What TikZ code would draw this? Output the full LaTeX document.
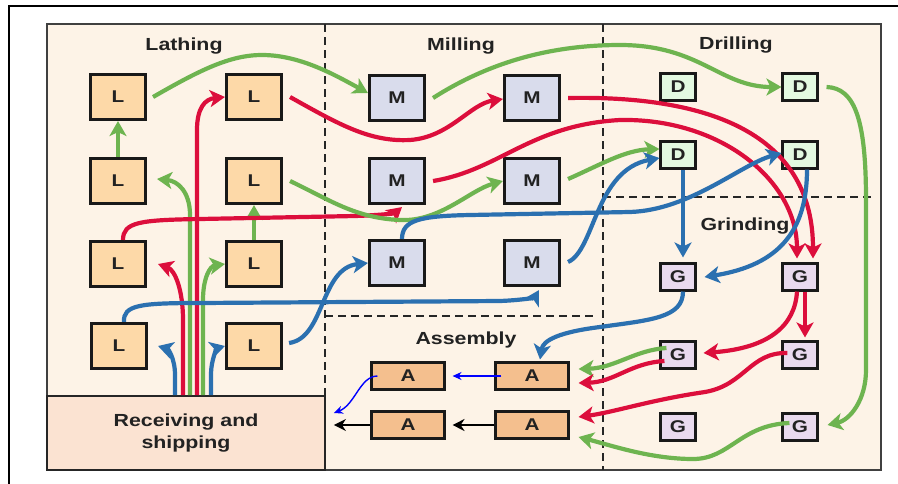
\documentclass[tikz,border=0pt]{standalone}
\usepackage{fontspec}
\usetikzlibrary{arrows.meta}
\newfontfamily\labfont[FakeStretch=1.22]{Liberation Sans}
\definecolor{panel}{HTML}{FDF3E7}
\definecolor{recv}{HTML}{FBE3D2}
\definecolor{lfill}{HTML}{FDD9A8}
\definecolor{mfill}{HTML}{D9DCEC}
\definecolor{dfill}{HTML}{E3F9E1}
\definecolor{gfill}{HTML}{E9DAEE}
\definecolor{afill}{HTML}{F4BF8E}
\definecolor{gr}{HTML}{6EB450}
\definecolor{rd}{HTML}{DC0E3C}
\definecolor{bl}{HTML}{2B70B0}
\definecolor{txt}{HTML}{222222}
\tikzset{
  box/.style={draw=black!90, line width=2.6pt, inner sep=0pt, text=txt,
    font=\labfont\bfseries\fontsize{17}{17}\selectfont},
  lbox/.style={box, fill=lfill, minimum width=55.5pt, minimum height=45.5pt},
  mbox/.style={box, fill=mfill, minimum width=55.5pt, minimum height=45.5pt},
  dbox/.style={box, fill=dfill, minimum width=34.5pt, minimum height=26.5pt},
  gbox/.style={box, fill=gfill, minimum width=34.5pt, minimum height=26.5pt},
  abox/.style={box, fill=afill, minimum width=72.5pt, minimum height=26.5pt},
  title/.style={text=txt, font=\labfont\bfseries\fontsize{17.5}{22}\selectfont},
  flow/.style={line width=4.2pt, -{Stealth[length=15pt,width=17pt,inset=4pt]}},
  gflow/.style={flow, draw=gr, color=gr},
  rflow/.style={flow, draw=rd, color=rd},
  bflow/.style={flow, draw=bl, color=bl},
  thinb/.style={draw=blue, line width=1.4pt, -{Stealth[length=9pt,width=8pt]}},
  blk/.style={draw=black, line width=2.6pt, -{Stealth[length=12pt,width=12pt]}},
  sep/.style={draw=black!85, line width=1.7pt, dash pattern=on 8pt off 5pt},
}
\begin{document}
\begin{tikzpicture}[x=1pt,y=-1pt]
\useasboundingbox (0,0) rectangle (898,483);
\fill[white] (0,0) rectangle (898,483);
% outer frame
\draw[black, line width=1.4pt] (9,490) -- (9,6) -- (905,6);
% panel
\draw[fill=panel, draw=black!75, line width=1.8pt] (47,24) rectangle (881,470);
% receiving box
\node[draw=black!85, line width=1.8pt, fill=recv, minimum width=278pt, minimum height=74pt,
  inner sep=0pt, align=center, title] (R) at (186,433) {Receiving and\\shipping};
% separators
\draw[sep] (325,24) -- (325,396);
\draw[sep] (603,24) -- (603,470);
\draw[sep] (325,316) -- (595,316);
\draw[sep] (603,197) -- (872,197);
% titles
\node[title] (tL) at (184,46) {Lathing};
\node[title] (tM) at (461,46) {Milling};
\node[title] (tD) at (736,45) {Drilling};
\node[title] (tG) at (745,226) {Grinding};
\node[title] (tA) at (466,340) {Assembly};
% L boxes
\node[lbox] (L1) at (118,97) {L};
\node[lbox] (L2) at (254,97) {L};
\node[lbox] (L3) at (118,181) {L};
\node[lbox] (L4) at (254,181) {L};
\node[lbox] (L5) at (118,264) {L};
\node[lbox] (L6) at (254,264) {L};
\node[lbox] (L7) at (119,346) {L};
\node[lbox] (L8) at (254,346) {L};
% M boxes
\node[mbox] (M1) at (397,98) {M};
\node[mbox] (M2) at (532,98) {M};
\node[mbox] (M3) at (397,181) {M};
\node[mbox] (M4) at (532,181) {M};
\node[mbox] (M5) at (397,263) {M};
\node[mbox] (M6) at (532,263) {M};
% D boxes
\node[dbox] (D1) at (678,87) {D};
\node[dbox] (D2) at (800,87) {D};
\node[dbox] (D3) at (678,155) {D};
\node[dbox] (D4) at (800,155) {D};
% G boxes
\node[gbox] (G1) at (678,277) {G};
\node[gbox] (G2) at (800,277) {G};
\node[gbox] (G3) at (678,355) {G};
\node[gbox] (G4) at (800,355) {G};
\node[gbox] (G5) at (678,427) {G};
\node[gbox] (G6) at (800,427) {G};
% A boxes
\node[abox] (A1) at (408,376) {A};
\node[abox] (A2) at (532,376) {A};
\node[abox] (A3) at (408,425) {A};
\node[abox] (A4) at (532,425) {A};

% ---- Lathing flows
\draw[gflow] (L3.north) -- (L1.south);
\draw[gflow] (L6.north) -- (L4.south);
\draw[gflow] ([xshift=6pt]L1.east) .. controls (200,70) and (230,55) .. (262,55) .. controls (300,55) and (335,75) .. ([yshift=5pt]M1.west);
\draw[rflow] ([xshift=11pt]R.north) -- (197,130) .. controls (197,108) and (205,99) .. (L2.west);
\draw[gflow] ([xshift=4pt]R.north) -- (190,215) .. controls (190,192) and (178,181) .. ([xshift=10pt,yshift=2pt]L3.east);
\draw[rflow] ([xshift=-3pt]R.north) -- (183,320) .. controls (183,290) and (175,270) .. ([xshift=11pt]L5.east);
\draw[gflow] ([xshift=17pt]R.north) -- (203,300) .. controls (203,278) and (210,266) .. (L6.west);
\draw[bflow] ([xshift=-11pt]R.north) -- (175,375) .. controls (175,358) and (168,349) .. ([xshift=10pt]L7.east);
\draw[bflow] ([xshift=25pt]R.north) -- (211,375) .. controls (211,358) and (218,348) .. (L8.west);
\draw[rflow] ([xshift=5pt]L5.north) .. controls (123,222) and (140,220) .. (200,219) -- (355,216) .. controls (385,215) and (395,213) .. ([xshift=5pt,yshift=-2pt]M3.south);
\draw[gflow] ([xshift=7pt]L4.east) .. controls (330,200) and (355,218) .. (400,220) .. controls (440,222) and (470,190) .. (M4.west);
\draw[bflow] ([xshift=5pt]L7.north) .. controls (123,305) and (140,303) .. (200,303) -- (500,301) .. controls (525,300) and (535,297) .. ([xshift=7pt,yshift=-3pt]M6.south);
\draw[bflow] ([xshift=6pt,yshift=3pt]L8.east) .. controls (325,338) and (320,268) .. (M5.west);
\draw[rflow] ([xshift=7pt]L2.east) .. controls (340,125) and (370,142) .. (410,140) .. controls (450,137) and (470,104) .. ([yshift=-1pt]M2.west);
% ---- Milling flows
\draw[gflow] ([xshift=7pt]M1.east) .. controls (480,68) and (540,45) .. (620,45) .. controls (700,45) and (720,87) .. (D2.west);
\draw[rflow, shorten >=4pt] ([xshift=7pt]M2.east) .. controls (720,95) and (813,140) .. ([xshift=13pt]G2.north);
\draw[rflow, shorten >=4pt] ([xshift=7pt]M3.east) .. controls (500,170) and (530,125) .. (620,120) .. controls (720,118) and (797,180) .. ([xshift=-3pt]G2.north);
\draw[gflow] ([xshift=7pt,yshift=2pt]M4.east) .. controls (600,165) and (625,150) .. ([yshift=6pt]D3.west);
\draw[bflow] ([xshift=5pt]M5.north) .. controls (402,220) and (420,216) .. (470,215) -- (630,212) .. controls (690,210) and (740,165) .. ([yshift=2pt]D4.west);
\draw[bflow] ([xshift=7pt,yshift=1pt]M6.east) .. controls (595,250) and (595,170) .. ([yshift=-3pt]D3.west);
% ---- Drilling flows
\draw[gflow] ([xshift=8pt]D2.east) .. controls (855,88) and (866,120) .. (866,200) -- (866,370) .. controls (866,400) and (850,420) .. ([xshift=9pt,yshift=2pt]G6.east);
\draw[bflow, shorten >=5pt] ([xshift=5pt]D3.south) -- ([xshift=5pt]G1.north);
\draw[bflow] ([xshift=7pt]D4.south) .. controls (807,230) and (780,265) .. ([xshift=8pt]G1.east);
% ---- Grinding flows
\draw[rflow, shorten >=3pt] ([xshift=5pt]G2.south) -- ([xshift=5pt]G4.north);
\draw[rflow] ([xshift=-3pt]G2.south) .. controls (795,325) and (770,348) .. ([xshift=7pt,yshift=2pt]G3.east);
\draw[bflow] ([xshift=5pt]G1.south) .. controls (683,318) and (650,320) .. (600,327) .. controls (560,332) and (543,340) .. ([xshift=8pt,yshift=2pt]A2.north);
\draw[gflow] ([xshift=7pt,yshift=7pt]G3.west) .. controls (635,350) and (615,368) .. ([xshift=9pt,yshift=7pt]A2.east);
\draw[rflow] ([xshift=5pt,yshift=-6pt]G3.west) .. controls (630,363) and (615,382) .. ([xshift=9pt,yshift=-7pt]A2.east);
\draw[rflow] ([xshift=6pt,yshift=2pt]G4.west) .. controls (750,352) and (745,385) .. (705,392) .. controls (650,400) and (615,412) .. ([xshift=9pt,yshift=8pt]A4.east);
\draw[gflow] ([xshift=8pt,yshift=4pt]G6.west) .. controls (740,425) and (730,459) .. (693,459) .. controls (650,459) and (610,445) .. ([xshift=9pt,yshift=-12pt]A4.east);
% ---- Assembly flows
\draw[thinb] ([xshift=7pt]A2.west) -- ([xshift=7pt]A1.east);
\draw[thinb] ([xshift=7pt]A1.west) .. controls (360,376) and (355,405) .. ([xshift=8pt,yshift=20pt]R.east);
\draw[blk] (A4.west) -- ([xshift=7pt]A3.east);
\draw[blk] (A3.west) -- ([xshift=8pt,yshift=8pt]R.east);
\end{tikzpicture}
\end{document}
